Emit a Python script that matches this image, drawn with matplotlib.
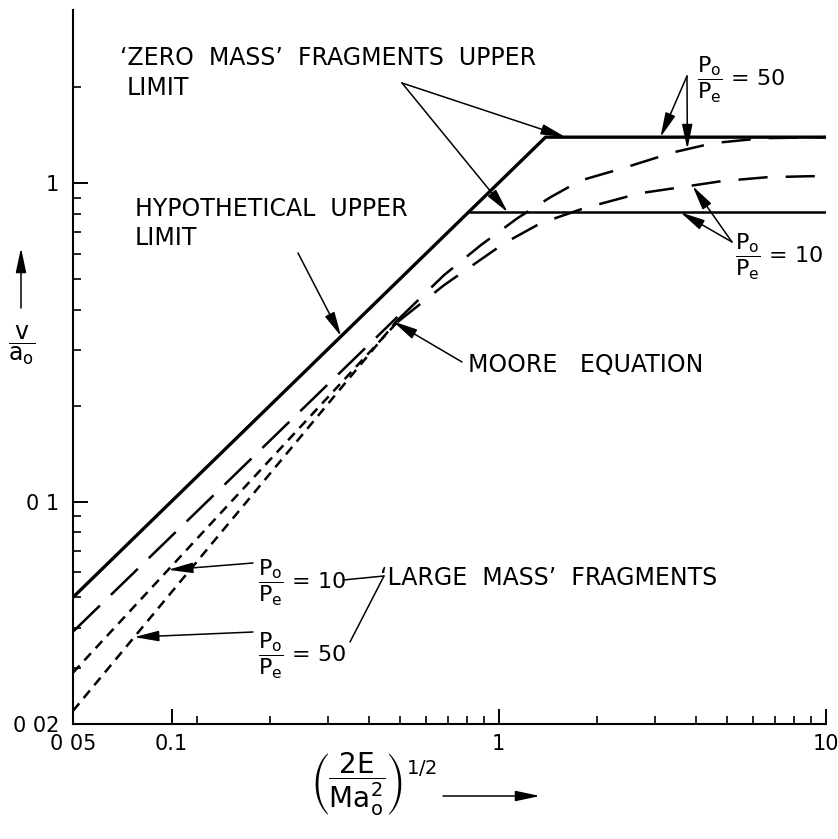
import matplotlib
matplotlib.use('Agg')
import matplotlib.pyplot as plt
from matplotlib.ticker import FixedLocator, NullFormatter

plt.rcParams['font.family'] = 'DejaVu Sans'
plt.rcParams['mathtext.fontset'] = 'dejavusans'
plt.rcParams['lines.scale_dashes'] = False

# velocity ratio v/a_o against (2E/Ma_o^2)^1/2
hyp_x = [0.05, 1.39]
hyp_y = [0.05, 1.395]
zero50_x = [1.39, 10]
zero50_y = [1.395, 1.395]
zero10_x = [0.81, 10]
zero10_y = [0.81, 0.81]
moore_x = [0.05, 0.49]
moore_y = [0.039, 0.38]
large10_x = [0.05, 0.49, 0.68, 1.04, 1.34, 1.82, 2.7, 3.6, 4.8, 6.6, 9.0, 10]
large10_y = [0.029, 0.366, 0.478, 0.648, 0.748, 0.834, 0.93, 0.971, 1.015, 1.044, 1.052, 1.052]
large50_x = [0.05, 0.49, 0.68, 0.88, 1.14, 1.44, 1.78, 2.4, 3.42, 4.52, 6.43, 10]
large50_y = [0.022, 0.371, 0.514, 0.638, 0.776, 0.904, 1.02, 1.115, 1.25, 1.336, 1.385, 1.395]

x_major = [0.05, 0.1, 1, 10]
x_major_labels = ['0 05', '0.1', '1', '10']
x_minor = [0.12, 0.2, 0.3, 0.4, 0.5, 0.6, 0.7, 0.8, 0.9, 2, 3, 4, 5, 6, 7, 8, 9]
y_major = [0.02, 0.1, 1]
y_major_labels = ['0 02', '0 1', '1']
y_minor = [0.03, 0.04, 0.05, 0.06, 0.07, 0.08, 0.09,
           0.2, 0.3, 0.4, 0.5, 0.6, 0.7, 0.8, 0.9, 2]

W, H = 838, 839
FS = 17


def fpx(px, py):
    # figure pixels measured from the top-left corner
    return (px, H - py)


fig = plt.figure(figsize=(W / 100, H / 100), dpi=100)
ax = fig.add_axes([73 / W, (H - 724) / H, (826 - 73) / W, (724 - 10) / H])
ax.set_xscale('log')
ax.set_yscale('log')
ax.set_xlim(0.05, 10)
ax.set_ylim(0.02, 3.5)

k = dict(color='black', solid_capstyle='butt', dash_capstyle='butt')
ax.plot(hyp_x + zero50_x[1:], hyp_y + zero50_y[1:], lw=2.4, solid_joinstyle='miter', **k)
ax.plot(zero10_x, zero10_y, lw=1.8, **k)
ax.plot(moore_x, moore_y, lw=1.8, dashes=(27, 11), **k)
for cx, cy in [(large10_x, large10_y), (large50_x, large50_y)]:
    ax.plot(cx[:2], cy[:2], lw=1.8, dashes=(7, 5), **k)
    ax.plot(cx[1:], cy[1:], lw=1.8, dashes=(21, 13), **k)

for s in ['top', 'right']:
    ax.spines[s].set_visible(False)
for s in ['left', 'bottom']:
    ax.spines[s].set_linewidth(1.5)

ax.xaxis.set_major_locator(FixedLocator(x_major))
ax.xaxis.set_minor_locator(FixedLocator(x_minor))
ax.xaxis.set_minor_formatter(NullFormatter())
ax.set_xticklabels(x_major_labels)
ax.yaxis.set_major_locator(FixedLocator(y_major))
ax.yaxis.set_minor_locator(FixedLocator(y_minor))
ax.yaxis.set_minor_formatter(NullFormatter())
ax.set_yticklabels(y_major_labels)
ax.tick_params(which='major', direction='in', length=11, width=1.4, labelsize=15, pad=7)
ax.tick_params(which='minor', direction='in', length=6, width=1.2)
ax.tick_params(axis='y', which='major', pad=10)

arrow = dict(arrowstyle='-|>,head_length=0.75,head_width=0.16', color='black',
             lw=1.1, mutation_scale=20, shrinkA=0, shrinkB=0)
plain = dict(arrowstyle='-', color='black', lw=1.1, shrinkA=0, shrinkB=0)


def point(xy_data, tail):
    ax.annotate('', xy=xy_data, xycoords='data', xytext=fpx(*tail),
                textcoords='figure pixels', arrowprops=arrow)


def link(a, b, props):
    ax.annotate('', xy=fpx(*b), xycoords='figure pixels', xytext=fpx(*a),
                textcoords='figure pixels', arrowprops=props)


def label(px, py, s, size=FS, **kw):
    fig.text(px / W, (H - py) / H, s, fontsize=size, **kw)


# zero mass fragments upper limit
label(120, 65, '\u2018ZERO  MASS\u2019  FRAGMENTS  UPPER', va='baseline')
label(127, 95, 'LIMIT', va='baseline')
point((1.60, 1.395), (402, 83))
point((1.065, 0.81), (402, 83))

# hypothetical upper limit
label(135, 216, 'HYPOTHETICAL  UPPER', va='baseline')
label(135, 245, 'LIMIT', va='baseline')
point((0.33, 0.33), (298, 253))

# Moore equation
label(468, 372, 'MOORE   EQUATION', va='baseline')
point((0.475, 0.368), (462, 362))

# pressure ratio labels on the right
frac = r'$\dfrac{\mathrm{P_o}}{\mathrm{P_e}}$'
label(697, 80, frac + ' = 50', size=16, va='center')
point((3.12, 1.395), (687, 76))
point((3.77, 1.28), (687, 76))
label(735, 257, frac + ' = 10', size=16, va='center')
point((3.91, 0.98), (732, 242))
point((3.59, 0.81), (732, 242))

# large mass fragments
label(258, 583, frac + ' = 10', size=16, va='center')
point((0.0977, 0.061), (253, 563))
label(258, 656, frac + ' = 50', size=16, va='center')
point((0.0769, 0.0375), (253, 632))
label(380, 585, '\u2018LARGE  MASS\u2019  FRAGMENTS', va='baseline')
link((384, 576), (343, 580), plain)
link((384, 576), (350, 642), plain)

# axis titles with their direction arrows
label(22, 345, r'$\dfrac{\mathrm{v}}{\mathrm{a_o}}$', ha='center', va='center')
link((21, 308), (21, 248), arrow)
label(310, 784, r'$\left(\dfrac{\mathrm{2E}}{\mathrm{Ma_o^2}}\right)^{1/2}$', size=20, va='center')
link((443, 796), (540, 796), arrow)

fig.savefig('out.png', dpi=100)
